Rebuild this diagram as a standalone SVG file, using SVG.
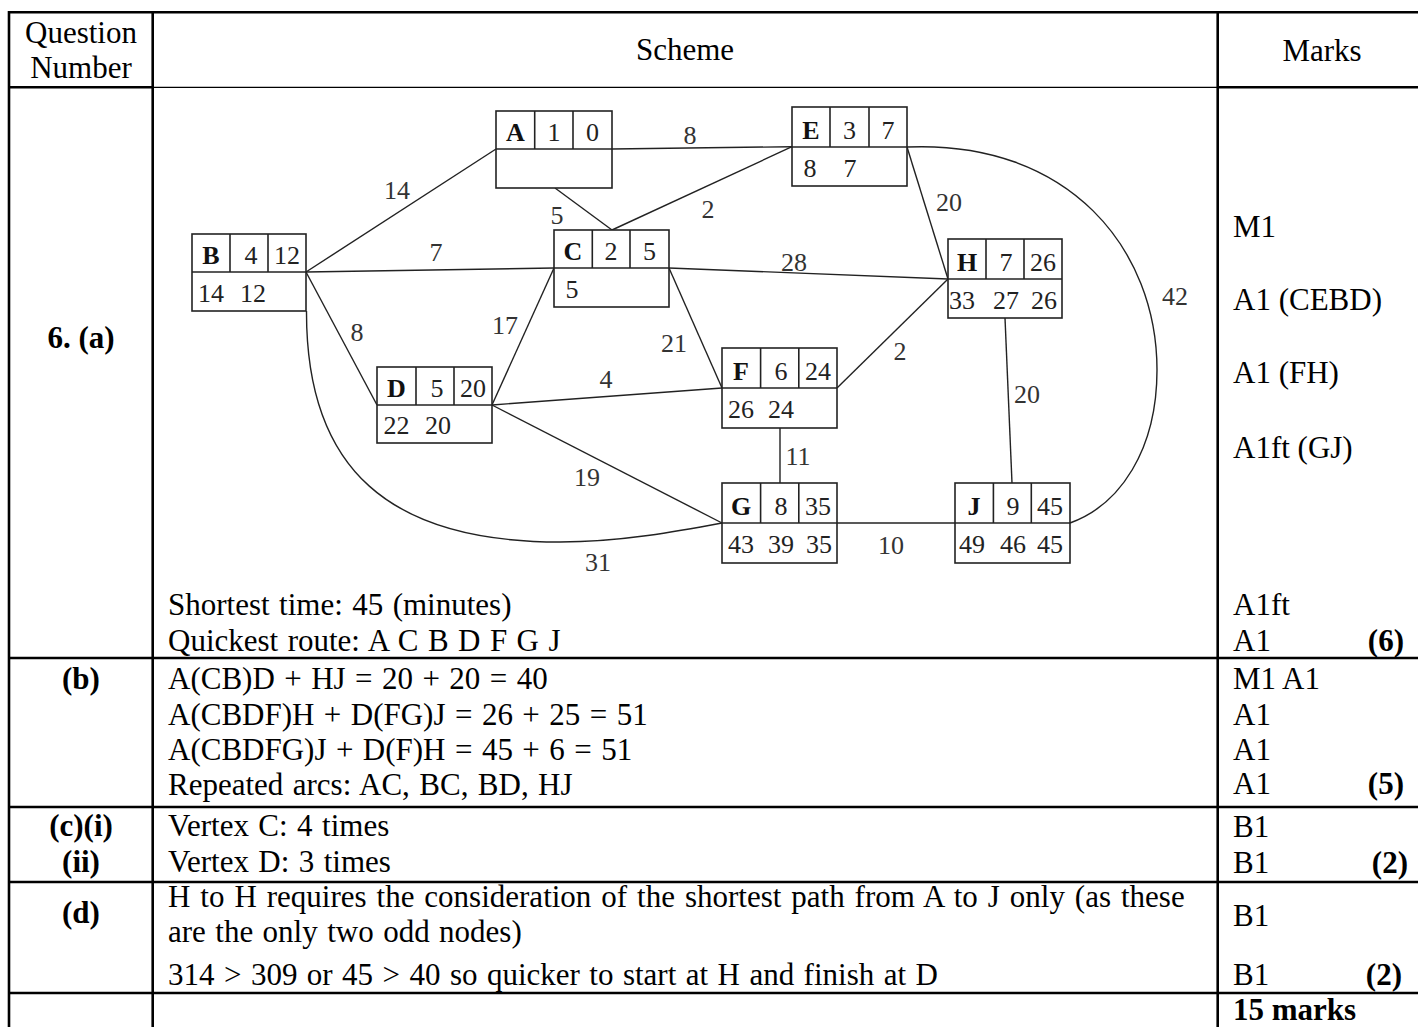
<svg xmlns="http://www.w3.org/2000/svg" width="1418" height="1027" viewBox="0 0 1418 1027">
<style>
.t{font-family:"Liberation Serif","Times New Roman",serif;font-size:31px;fill:#000}
.s{word-spacing:1.7px}
.b{font-weight:bold}
.c{text-anchor:middle}
.e{text-anchor:end}
.tl{stroke:#000;stroke-width:2.6;fill:none}
.thin{stroke:#000;stroke-width:1.3;fill:none}
.box rect,.box line{stroke:#222;stroke-width:1.6;fill:#fff}
.box text{font-family:"Liberation Serif","Times New Roman",serif;font-size:26px;fill:#222;text-anchor:middle}
.box .nl{font-weight:bold;fill:#111}
.edge{stroke:#222;stroke-width:1.4;fill:none}
.w{font-family:"Liberation Serif","Times New Roman",serif;font-size:26px;fill:#333;text-anchor:middle}
</style>
<rect width="1418" height="1027" fill="#fff"/>

<g id="table">
<line class="tl" x1="9" y1="12.3" x2="1418" y2="12.3"/>
<line class="tl" x1="9" y1="11" x2="9" y2="1027"/>
<line class="tl" x1="152.7" y1="11" x2="152.7" y2="1027"/>
<line class="tl" x1="1217.7" y1="11" x2="1217.7" y2="1027"/>
<line class="tl" x1="9" y1="87.3" x2="152.7" y2="87.3"/>
<line class="thin" x1="152.7" y1="87.3" x2="1217.7" y2="87.3"/>
<line class="tl" x1="1217.7" y1="87.3" x2="1418" y2="87.3"/>
<line class="tl" x1="9" y1="658" x2="1418" y2="658"/>
<line class="tl" x1="9" y1="807" x2="1418" y2="807"/>
<line class="tl" x1="9" y1="882" x2="1418" y2="882"/>
<line class="tl" x1="9" y1="993" x2="1418" y2="993"/>

<text class="t c" x="81" y="43">Question</text>
<text class="t c" x="81" y="78">Number</text>
<text class="t c" x="685" y="60">Scheme</text>
<text class="t c" x="1322" y="61">Marks</text>

<text class="t b c" x="81" y="348">6. (a)</text>
<text class="t s" x="168" y="615">Shortest time: 45 (minutes)</text>
<text class="t s" x="168" y="651">Quickest route: A C B D F G J</text>
<text class="t" x="1233" y="237">M1</text>
<text class="t" x="1233" y="310">A1 (CEBD)</text>
<text class="t" x="1233" y="383">A1 (FH)</text>
<text class="t" x="1233" y="458">A1ft (GJ)</text>
<text class="t" x="1233" y="615">A1ft</text>
<text class="t" x="1233" y="651">A1</text>
<text class="t b e" x="1404" y="651">(6)</text>

<text class="t b c" x="81" y="689">(b)</text>
<text class="t s" x="168" y="689">A(CB)D + HJ = 20 + 20 = 40</text>
<text class="t s" x="168" y="725">A(CBDF)H + D(FG)J = 26 + 25 = 51</text>
<text class="t s" x="168" y="760">A(CBDFG)J + D(F)H = 45 + 6 = 51</text>
<text class="t s" x="168" y="795">Repeated arcs: AC, BC, BD, HJ</text>
<text class="t" x="1233" y="689">M1 A1</text>
<text class="t" x="1233" y="725">A1</text>
<text class="t" x="1233" y="760">A1</text>
<text class="t" x="1233" y="794">A1</text>
<text class="t b e" x="1404" y="794">(5)</text>

<text class="t b c" x="81" y="836">(c)(i)</text>
<text class="t b c" x="81" y="872">(ii)</text>
<text class="t s" x="168" y="836">Vertex C: 4 times</text>
<text class="t s" x="168" y="872">Vertex D: 3 times</text>
<text class="t" x="1233" y="837">B1</text>
<text class="t" x="1233" y="873">B1</text>
<text class="t b e" x="1408" y="873">(2)</text>

<text class="t b c" x="81" y="923">(d)</text>
<text class="t" x="168" y="907" style="word-spacing:2.2px">H to H requires the consideration of the shortest path from A to J only (as these</text>
<text class="t s" x="168" y="942">are the only two odd nodes)</text>
<text class="t s" x="168" y="985">314 &gt; 309 or 45 &gt; 40 so quicker to start at H and finish at D</text>
<text class="t" x="1233" y="926">B1</text>
<text class="t" x="1233" y="985">B1</text>
<text class="t b e" x="1402" y="985">(2)</text>

<text class="t b" x="1233" y="1020">15 marks</text>
</g>

<g id="connectors">
<line class="edge" x1="496" y1="149" x2="306" y2="272"/>
<line class="edge" x1="612" y1="149" x2="792" y2="146.7"/>
<line class="edge" x1="555" y1="188" x2="612" y2="230"/>
<line class="edge" x1="612" y1="230" x2="792" y2="146.7"/>
<line class="edge" x1="306" y1="272" x2="554" y2="268"/>
<line class="edge" x1="306" y1="272" x2="377" y2="405"/>
<path class="edge" d="M306.5,311 C306,470 390,542 560,542 C620,542 680,531 722,523"/>
<line class="edge" x1="554" y1="268" x2="492" y2="405"/>
<line class="edge" x1="669" y1="268" x2="722" y2="388"/>
<line class="edge" x1="669" y1="268" x2="948" y2="279"/>
<line class="edge" x1="907" y1="147" x2="948" y2="279"/>
<line class="edge" x1="837" y1="388" x2="948" y2="279"/>
<line class="edge" x1="492" y1="405" x2="722" y2="388"/>
<line class="edge" x1="492" y1="405" x2="722" y2="523"/>
<line class="edge" x1="780" y1="427.5" x2="780" y2="483"/>
<line class="edge" x1="1005" y1="318" x2="1012" y2="483"/>
<line class="edge" x1="837" y1="523" x2="955" y2="523"/>
<path class="edge" d="M907,147 C1070,140 1157,250 1157,370 C1157,450 1120,505 1070,523"/>
<text class="w" x="397" y="199">14</text>
<text class="w" x="690" y="144">8</text>
<text class="w" x="557" y="224">5</text>
<text class="w" x="708" y="218">2</text>
<text class="w" x="436" y="261">7</text>
<text class="w" x="794" y="271">28</text>
<text class="w" x="949" y="211">20</text>
<text class="w" x="1175" y="305">42</text>
<text class="w" x="357" y="341">8</text>
<text class="w" x="505" y="334">17</text>
<text class="w" x="674" y="352">21</text>
<text class="w" x="900" y="360">2</text>
<text class="w" x="606" y="388">4</text>
<text class="w" x="1027" y="403">20</text>
<text class="w" x="798" y="465">11</text>
<text class="w" x="587" y="486">19</text>
<text class="w" x="891" y="554">10</text>
<text class="w" x="598" y="571">31</text>
</g>

<g id="node-A" class="box">
<rect x="496" y="111" width="116" height="77"/>
<line x1="496" y1="149" x2="612" y2="149"/>
<line x1="534.7" y1="111" x2="534.7" y2="149"/>
<line x1="573" y1="111" x2="573" y2="149"/>
<text class="nl" x="515.3" y="141">A</text>
<text x="554" y="141">1</text>
<text x="592.5" y="141">0</text>
</g>
<g id="node-B" class="box">
<rect x="192" y="234" width="114" height="77"/>
<line x1="192" y1="272" x2="306" y2="272"/>
<line x1="230" y1="234" x2="230" y2="272"/>
<line x1="268" y1="234" x2="268" y2="272"/>
<text class="nl" x="211" y="264">B</text>
<text x="251" y="264">4</text>
<text x="287" y="264">12</text>
<text x="211" y="302">14</text>
<text x="253" y="302">12</text>
</g>
<g id="node-C" class="box">
<rect x="554" y="230" width="115" height="77"/>
<line x1="554" y1="268" x2="669" y2="268"/>
<line x1="592.3" y1="230" x2="592.3" y2="268"/>
<line x1="630" y1="230" x2="630" y2="268"/>
<text class="nl" x="573" y="260">C</text>
<text x="611" y="260">2</text>
<text x="649.5" y="260">5</text>
<text x="572" y="298">5</text>
</g>
<g id="node-D" class="box">
<rect x="377" y="367" width="115" height="76"/>
<line x1="377" y1="405" x2="492" y2="405"/>
<line x1="416" y1="367" x2="416" y2="405"/>
<line x1="454" y1="367" x2="454" y2="405"/>
<text class="nl" x="396.5" y="397">D</text>
<text x="437" y="397">5</text>
<text x="473" y="397">20</text>
<text x="396.5" y="434">22</text>
<text x="438" y="434">20</text>
</g>
<g id="node-E" class="box">
<rect x="792" y="107" width="115" height="79"/>
<line x1="792" y1="147" x2="907" y2="147"/>
<line x1="830" y1="107" x2="830" y2="147"/>
<line x1="869" y1="107" x2="869" y2="147"/>
<text class="nl" x="811" y="139">E</text>
<text x="849.5" y="139">3</text>
<text x="888" y="139">7</text>
<text x="810" y="177">8</text>
<text x="850" y="177">7</text>
</g>
<g id="node-H" class="box">
<rect x="948" y="239" width="114" height="79"/>
<line x1="948" y1="279" x2="1062" y2="279"/>
<line x1="986" y1="239" x2="986" y2="279"/>
<line x1="1024" y1="239" x2="1024" y2="279"/>
<text class="nl" x="967" y="271">H</text>
<text x="1006" y="271">7</text>
<text x="1043" y="271">26</text>
<text x="962" y="309">33</text>
<text x="1006" y="309">27</text>
<text x="1044" y="309">26</text>
</g>
<g id="node-F" class="box">
<rect x="722" y="348" width="115" height="80"/>
<line x1="722" y1="388" x2="837" y2="388"/>
<line x1="760.6" y1="348" x2="760.6" y2="388"/>
<line x1="798.8" y1="348" x2="798.8" y2="388"/>
<text class="nl" x="741" y="380">F</text>
<text x="781" y="380">6</text>
<text x="818" y="380">24</text>
<text x="741" y="418">26</text>
<text x="781" y="418">24</text>
</g>
<g id="node-G" class="box">
<rect x="722" y="483" width="115" height="80"/>
<line x1="722" y1="523" x2="837" y2="523"/>
<line x1="760.6" y1="483" x2="760.6" y2="523"/>
<line x1="798.8" y1="483" x2="798.8" y2="523"/>
<text class="nl" x="741" y="515">G</text>
<text x="781" y="515">8</text>
<text x="818" y="515">35</text>
<text x="741" y="553">43</text>
<text x="781" y="553">39</text>
<text x="819" y="553">35</text>
</g>
<g id="node-J" class="box">
<rect x="955" y="483" width="115" height="80"/>
<line x1="955" y1="523" x2="1070" y2="523"/>
<line x1="993.4" y1="483" x2="993.4" y2="523"/>
<line x1="1031.3" y1="483" x2="1031.3" y2="523"/>
<text class="nl" x="974" y="515">J</text>
<text x="1013" y="515">9</text>
<text x="1050" y="515">45</text>
<text x="972" y="553">49</text>
<text x="1013" y="553">46</text>
<text x="1050" y="553">45</text>
</g>
</svg>
